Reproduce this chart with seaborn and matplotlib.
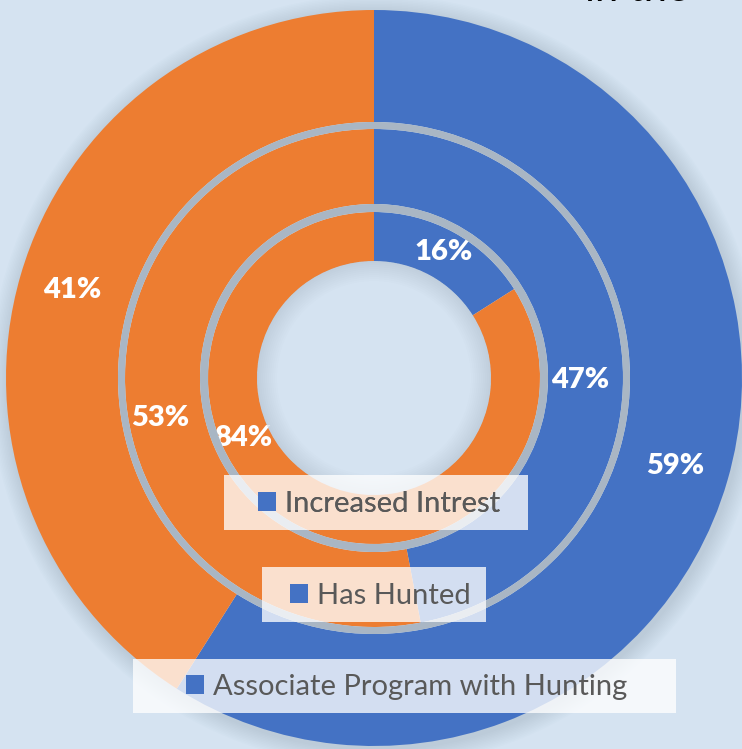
import matplotlib
matplotlib.use("Agg")
import matplotlib.pyplot as plt
from matplotlib.patches import Patch, Wedge, Rectangle
import numpy as np
import seaborn as sns

# rings from outside to inside
series = ["Associate Program with Hunting", "Has Hunted", "Increased Intrest"]
yes_share = [59, 47, 16]
no_share = [41, 53, 84]

blue = "#4472C4"
orange = "#ED7D31"
ring_gray = "#A9B6C4"
bg = "#D5E3F1"
text_gray = "#595959"

sns.set_theme(style="white")
plt.rcParams["font.family"] = ["Lato", "DejaVu Sans"]

fig = plt.figure(figsize=(7.42, 7.49), dpi=100, facecolor=bg)
ax = fig.add_axes([0, 0, 1, 1])
ax.set_facecolor(bg)

cx, cy = 374, 371
# (outer radius, ring width) per series, outer -> inner
rings = [(368, 112), (249, 75), (166, 49)]

# soft drop shadow just outside the donut
for i in range(12):
    ax.add_patch(Wedge((cx + 2, cy - 3), 368 + (i + 1) * 1.5, 0, 360, width=(i + 1) * 1.5 + 4,
                       color="#7d8fa3", alpha=0.025, lw=0, zorder=0))

all_texts = []
for (r, w), y, n in zip(rings, yes_share, no_share):
    wedges, texts, autotexts = ax.pie(
        [y, n], radius=r, center=(cx, cy), startangle=90, counterclock=False,
        colors=[blue, orange], wedgeprops=dict(width=w, linewidth=0),
        autopct=lambda p: f"{p:.0f}%", pctdistance=(r - w / 2 + 2) / r,
        textprops=dict(color="white", fontsize=21, fontweight="heavy"))
    all_texts.append(autotexts)

# labels that were moved by hand in the original
for txt, ang, rad in [(all_texts[1][0], -0.5, 206), (all_texts[1][1], -169.5, 217),
                      (all_texts[2][1], -155.5, 144)]:
    a = np.deg2rad(ang)
    txt.set_position((cx + rad * np.cos(a), cy + rad * np.sin(a)))

# gray separators between the rings
ax.add_patch(Wedge((cx, cy), 256, 0, 360, width=7, color=ring_gray, lw=0, zorder=3))
ax.add_patch(Wedge((cx, cy), 174, 0, 360, width=8, color=ring_gray, lw=0, zorder=3))

# inner shadow of the hole
for i in range(10):
    ax.add_patch(Wedge((cx, cy), 117, 0, 360, width=(i + 1) * 2,
                       color="#8a9bb0", alpha=0.025, lw=0, zorder=3))

ax.set_xlim(0, 742)
ax.set_ylim(0, 749)
ax.set_aspect("equal")
ax.axis("off")

# one legend box per series, laid over the chart
# box: (left, right, top, bottom) in pixels from the top-left, plus marker x
legend_boxes = [(133, 676, 659, 713, 186), (262, 486, 567, 622, 290), (224, 528, 475, 530, 258)]
for label, (x0, x1, yt, yb, mx) in zip(series, legend_boxes):
    ax.add_patch(Rectangle((x0, 749 - yb), x1 - x0, yb - yt, facecolor="white",
                           alpha=0.77, lw=0, zorder=9))
    leg = ax.legend(handles=[Patch(facecolor=blue, edgecolor="none")], labels=[label],
                    loc="center left", bbox_to_anchor=(mx, 749 - (yt + yb) / 2 - 1),
                    bbox_transform=ax.transData, frameon=False, fontsize=21,
                    labelcolor=text_gray, handlelength=0.62, handleheight=0.62,
                    handletextpad=0.3, borderpad=0, borderaxespad=0)
    leg.set_zorder(10)
    ax.add_artist(leg)

# title, cut off at the top edge
fig.text(585 / 742, 1 - 1 / 749, "in the", fontsize=30, color="black",
         ha="left", va="baseline")

fig.savefig("out.png", dpi=100, facecolor=bg)
